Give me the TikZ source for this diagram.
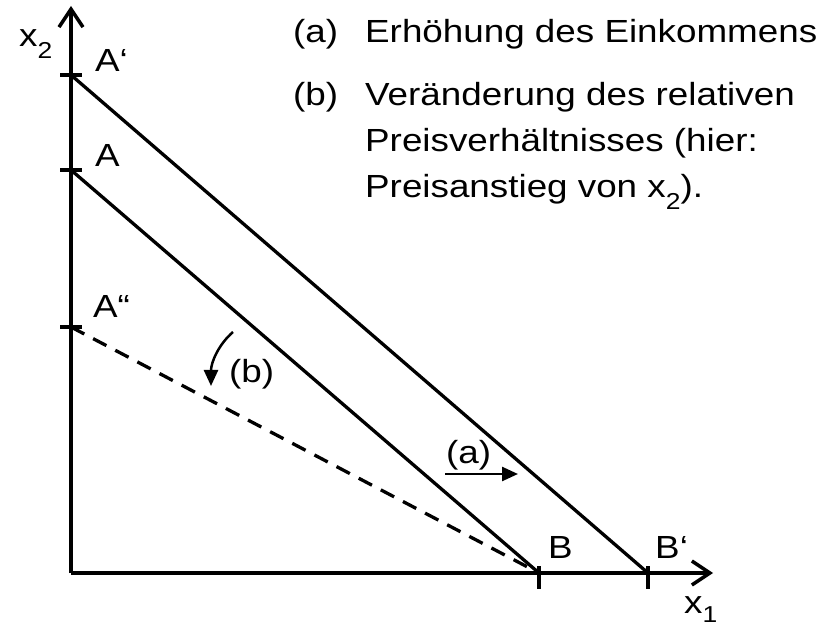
\documentclass[tikz,border=0pt]{standalone}
\usepackage{fontspec}
\setmainfont{Liberation Sans}[FakeStretch=1.15]
\usetikzlibrary{arrows.meta}
\newcommand\lowidx[2][12pt]{\raisebox{-#1}{\fontsize{23}{23}\selectfont #2}}

\begin{document}
\begin{tikzpicture}[
    x=1pt, y=-1pt,
    font=\fontsize{32}{46}\selectfont,
    >={Triangle[length=16pt,width=14pt]},
    axis/.style={line width=3.5pt, -{Straight Barb[length=18pt,width=24pt]}},
    budget/.style={line width=3.3pt},
    tickmark/.style={line width=3.3pt},
    shiftarrow/.style={line width=2.5pt, ->},
    lab/.style={inner sep=0pt, anchor=base west},
  ]
  \useasboundingbox (0,0) rectangle (839,631);

  %% ---- axes -----------------------------------------------------------
  \coordinate (O)    at (71,573);
  \coordinate (yend) at (71,6);
  \coordinate (xend) at (713,573);
  \draw[axis] (O) -- (yend);
  \draw[axis] (O) -- (xend);

  %% ---- intercepts -----------------------------------------------------
  \coordinate (Ap)  at (71,75);
  \coordinate (A)   at (71,170);
  \coordinate (App) at (71,327);
  \coordinate (B)   at (539,573);
  \coordinate (Bp)  at (648,573);
  \foreach \c in {Ap,A,App}
    \draw[tickmark] ([xshift=-11pt]\c) -- ([xshift=11pt]\c);
  \foreach \c in {B,Bp}
    \draw[tickmark] ([yshift=7pt]\c) -- ([yshift=-16pt]\c);

  %% ---- budget lines ---------------------------------------------------
  \draw[budget] (Ap) -- (Bp);
  \draw[budget] (A) -- (B);
  \draw[budget, dash pattern=on 15pt off 10pt] (App) -- (B);

  %% ---- labels ---------------------------------------------------------
  \node[lab] (lx2)  at (19,47)   {x\lowidx{2}};
  \node[lab] (lx1)  at (684,613) {x\lowidx[9pt]{1}};
  \node[lab] (lAp)  at (95,72)   {A‘};
  \node[lab] (lA)   at (95,167)  {A};
  \node[lab] (lApp) at (93,318)  {A“};
  \node[lab] (lB)   at (548,558) {B};
  \node[lab] (lBp)  at (655,558) {B‘};

  %% ---- shifts (a) and (b) ---------------------------------------------
  \coordinate (sa) at (445,474);
  \coordinate (ea) at (518,474);
  \draw[shiftarrow] (sa) -- (ea);
  \node[lab] (la) at (446,463) {(a)};

  \coordinate (sb) at (233,332);
  \coordinate (eb) at (211,386);
  \draw[shiftarrow] (sb) .. controls (219,344) and (211,362) .. (eb);
  \node[lab] (lb) at (229,383) {(b)};

  %% ---- legend ---------------------------------------------------------
  \node[lab] (ka)  at (293,43)  {(a)};
  \node[lab] (ta)  at (365,43)  {Erhöhung des Einkommens};
  \node[lab] (kb)  at (293,106) {(b)};
  \node[lab] (tb1) at (365,106) {Veränderung des relativen};
  \node[lab] (tb2) at (365,152) {Preisverhältnisses (hier:};
  \node[lab] (tb3) at (365,198) {Preisanstieg von x\lowidx{2}).};
\end{tikzpicture}
\end{document}
